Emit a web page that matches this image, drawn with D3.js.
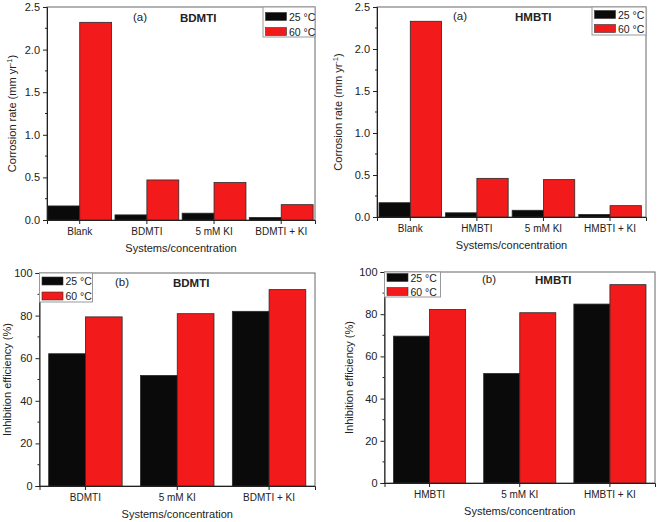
<!DOCTYPE html>
<html>
<head>
<meta charset="utf-8">
<script src="https://cdn.jsdelivr.net/npm/d3@7"></script>
<style>
  body { margin: 0; background: #fff; }
  text { font-family: "Liberation Sans", Arial, sans-serif; fill: #222; }
</style>
</head>
<body>
<svg id="chart" width="661" height="522"></svg>
<script>
// values
const seriesNames = ["25 °C", "60 °C"];

const rateCatsBD = ["Blank", "BDMTI", "5 mM KI", "BDMTI + KI"];
const rateBD25 = [0.165, 0.06, 0.08, 0.03];
const rateBD60 = [2.32, 0.47, 0.44, 0.18];

const rateCatsHM = ["Blank", "HMBTI", "5 mM KI", "HMBTI + KI"];
const rateHM25 = [0.17, 0.05, 0.08, 0.03];
const rateHM60 = [2.33, 0.46, 0.445, 0.135];

const effCatsBD = ["BDMTI", "5 mM KI", "BDMTI + KI"];
const effBD25 = [62.1, 51.9, 82.0];
const effBD60 = [79.4, 80.9, 92.2];

const effCatsHM = ["HMBTI", "5 mM KI", "HMBTI + KI"];
const effHM25 = [69.6, 51.9, 84.8];
const effHM60 = [82.2, 80.7, 94.0];

const rateTicks = [0, 0.5, 1.0, 1.5, 2.0, 2.5];
const effTicks = [0, 20, 40, 60, 80, 100];

const colors = ["#0a0a0a", "#f21a1a"];

const svg = d3.select("#chart");

function drawPanel(p) {
    const g = svg.append("g");

    const x = d3.scaleBand()
        .domain(p.cats)
        .range([p.x0, p.x1])
        .paddingInner(p.padIn)
        .paddingOuter(p.padOut)
        .align(p.align);

    const sub = d3.scaleBand()
        .domain(seriesNames)
        .range([0, x.bandwidth()]);

    const y = d3.scaleLinear()
        .domain([0, p.ticks[p.ticks.length - 1]])
        .range([p.y1, p.y0]);

    // frame (top + right in grey)
    g.append("rect")
        .attr("x", p.x0).attr("y", p.y0)
        .attr("width", p.x1 - p.x0).attr("height", p.y1 - p.y0)
        .attr("fill", "none")
        .attr("stroke", "#666")
        .attr("stroke-width", 1);

    // bars
    const rows = p.cats.map((c, i) => ({ cat: c, vals: [p.s1[i], p.s2[i]] }));
    g.append("g").selectAll("g")
        .data(rows)
        .enter().append("g")
        .attr("transform", d => `translate(${x(d.cat)},0)`)
        .selectAll("rect")
        .data(d => d.vals.map((v, k) => ({ v, k })))
        .enter().append("rect")
        .attr("x", d => sub(seriesNames[d.k]))
        .attr("y", d => y(d.v))
        .attr("width", sub.bandwidth())
        .attr("height", d => p.y1 - y(d.v))
        .attr("fill", d => colors[d.k])
        .attr("stroke", "#2a2a2a")
        .attr("stroke-width", 0.8);

    // y axis
    const yAxis = d3.axisLeft(y)
        .tickValues(p.ticks)
        .tickFormat(p.fmt)
        .tickSize(4)
        .tickPadding(3);
    const ya = g.append("g")
        .attr("transform", `translate(${p.x0},0)`)
        .call(yAxis);
    ya.select(".domain").attr("stroke", "#222");
    ya.selectAll(".tick line").attr("stroke", "#222");
    ya.selectAll("text").attr("font-size", 11).attr("fill", "#222");

    // y minor ticks
    const step = p.ticks[1] - p.ticks[0];
    g.append("g").selectAll("line")
        .data(p.ticks.slice(0, -1).map(t => t + step / 2))
        .enter().append("line")
        .attr("x1", p.x0 - 2).attr("x2", p.x0)
        .attr("y1", d => y(d)).attr("y2", d => y(d))
        .attr("stroke", "#222");

    // x axis
    const xAxis = d3.axisBottom(x).tickSize(4).tickPadding(4);
    const xa = g.append("g")
        .attr("transform", `translate(0,${p.y1})`)
        .call(xAxis);
    xa.select(".domain").attr("stroke", "#222");
    xa.selectAll(".tick line").attr("stroke", "#222");
    xa.selectAll("text").attr("font-size", 10).attr("fill", "#222");

    // y label
    const yl = g.append("text")
        .attr("transform", `translate(${p.ylx},${(p.y0 + p.y1) / 2}) rotate(-90)`)
        .attr("text-anchor", "middle")
        .attr("font-size", 11);
    yl.append("tspan").text(p.yLabel);
    if (p.sup) {
        yl.append("tspan").attr("dy", -4).attr("font-size", 7.5).text(p.sup);
        yl.append("tspan").attr("dy", 4).text(")");
    }

    // x label
    g.append("text")
        .attr("x", (p.x0 + p.x1) / 2)
        .attr("y", p.y1 + 32)
        .attr("text-anchor", "middle")
        .attr("font-size", 11)
        .text("Systems/concentration");

    // panel tags
    g.append("text")
        .attr("x", p.tagX).attr("y", p.titleY)
        .attr("font-size", 11.5)
        .text(p.tag);
    g.append("text")
        .attr("x", p.nameX).attr("y", p.titleY + 1)
        .attr("font-size", 11.5)
        .attr("font-weight", "bold")
        .attr("fill", "#333")
        .text(p.name);

    // legend
    const L = p.legend;
    const lg = g.append("g").attr("transform", `translate(${L.x},${L.y})`);
    lg.append("rect")
        .attr("width", L.w).attr("height", L.h)
        .attr("fill", "#fff")
        .attr("stroke", "#999");
    seriesNames.forEach((s, k) => {
        lg.append("rect")
            .attr("x", 2.5).attr("y", L.top + k * L.gap)
            .attr("width", 21).attr("height", 8)
            .attr("fill", colors[k])
            .attr("stroke", "#333")
            .attr("stroke-width", 0.6);
        lg.append("text")
            .attr("x", 26).attr("y", L.top + 8 + k * L.gap)
            .attr("font-size", 10.5)
            .text(s);
    });
}

const fmt1 = d3.format(".1f");
const fmt0 = d3.format("d");

drawPanel({
    x0: 47, x1: 315, y0: 7, y1: 220,
    cats: rateCatsBD, s1: rateBD25, s2: rateBD60,
    padIn: 0.05, padOut: 0.02, align: 0.3,
    ticks: rateTicks, fmt: fmt1,
    yLabel: "Corrosion rate (mm yr", sup: "-1", ylx: 16,
    tag: "(a)", tagX: 133, name: "BDMTI", nameX: 180, titleY: 21,
    legend: { x: 263, y: 7, w: 52, h: 30, top: 5.5, gap: 15 }
});

drawPanel({
    x0: 377, x1: 646, y0: 7, y1: 217,
    cats: rateCatsHM, s1: rateHM25, s2: rateHM60,
    padIn: 0.06, padOut: 0.05, align: 0.3,
    ticks: rateTicks, fmt: fmt1,
    yLabel: "Corrosion rate (mm yr", sup: "-1", ylx: 342,
    tag: "(a)", tagX: 453, name: "HMBTI", nameX: 515, titleY: 20,
    legend: { x: 592, y: 7, w: 54, h: 28, top: 3.5, gap: 14 }
});

drawPanel({
    x0: 39.5, x1: 315, y0: 273, y1: 486,
    cats: effCatsBD, s1: effBD25, s2: effBD60,
    padIn: 0.2, padOut: 0.1, align: 0.5,
    ticks: effTicks, fmt: fmt0,
    yLabel: "Inhibition efficiency (%)", sup: null, ylx: 11,
    tag: "(b)", tagX: 115, name: "BDMTI", nameX: 173, titleY: 286,
    legend: { x: 39.5, y: 273, w: 53, h: 29, top: 4, gap: 15 }
});

drawPanel({
    x0: 384.5, x1: 655, y0: 272, y1: 483,
    cats: effCatsHM, s1: effHM25, s2: effHM60,
    padIn: 0.2, padOut: 0.1, align: 0.5,
    ticks: effTicks, fmt: fmt0,
    yLabel: "Inhibition efficiency (%)", sup: null, ylx: 353,
    tag: "(b)", tagX: 482, name: "HMBTI", nameX: 535, titleY: 283,
    legend: { x: 384.5, y: 272, w: 56, h: 25, top: 1.5, gap: 14 }
});
</script>
</body>
</html>
